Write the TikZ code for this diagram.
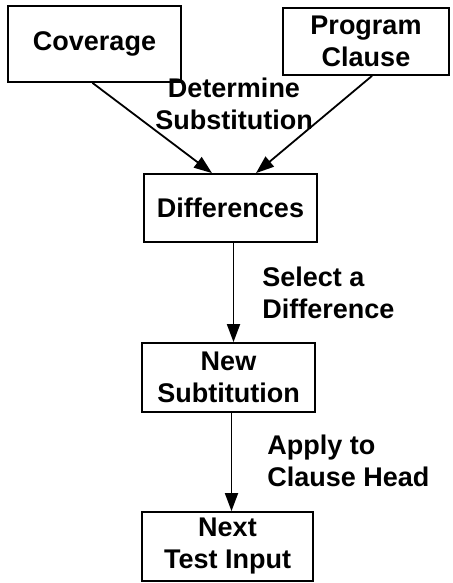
\documentclass[tikz,border=0pt]{standalone}
\usepackage{fontspec}
\setmainfont{Liberation Sans}
\usetikzlibrary{arrows.meta}
\begin{document}
\begin{tikzpicture}[x=0.5pt,y=-0.5pt,
	every node/.style={font=\fontsize{13.5}{16}\selectfont\bfseries,inner sep=0},
	box/.style={draw,line width=0.9pt,align=center},
	arr/.style={line width=0.9pt,-{Triangle[length=9pt,width=6.5pt]}}]
\useasboundingbox (0,0) rectangle (452,583);
\node[box,minimum width=86.5pt,minimum height=38pt] (cov) at (94.5,44) {Coverage};
\node[box,minimum width=83pt,minimum height=33.5pt] (prog) at (366,41.5) {Program\\Clause};
\node[box,minimum width=86.5pt,minimum height=34pt] (diff) at (230.5,208) {Differences};
\node[box,minimum width=86.5pt,minimum height=34.5pt] (newsub) at (228.5,377.5) {New\\Subtitution};
\node[box,minimum width=85.5pt,minimum height=34.5pt] (next) at (227.5,546.5) {Next\\Test Input};
\node[align=center] (det) at (234,104) {Determine\\Substitution};
\node[align=left,anchor=west] (sel) at (262,293) {Select a\\Difference};
\node[align=left,anchor=west] (app) at (267,461) {Apply to\\Clause Head};
\draw[arr] ([xshift=-1pt]cov.south) -- ([xshift=-9.25pt]diff.north);
\draw[arr] ([xshift=3pt]prog.south) -- ([xshift=12.75pt]diff.north);
\draw[arr] ([xshift=1.5pt]diff.south) -- ([xshift=1.5pt]diff.south |- newsub.north);
\draw[arr] ([xshift=1.5pt]newsub.south) -- ([xshift=1.5pt]newsub.south |- next.north);
\end{tikzpicture}
\end{document}
